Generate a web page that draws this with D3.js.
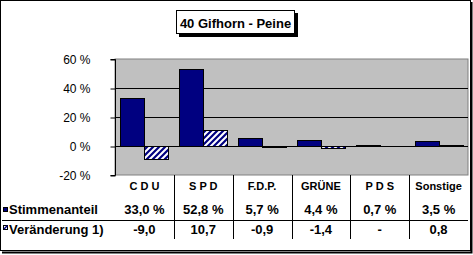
<!DOCTYPE html>
<html><head><meta charset="utf-8">
<script src="https://cdn.jsdelivr.net/npm/d3@7"></script>
<style>body{margin:0;background:#fff}svg{display:block}text{font-family:Arial,"Liberation Sans",sans-serif}</style>
</head><body>
<script>
const title = "40 Gifhorn - Peine";
const categories = ["C D U","S P D","F.D.P.","GRÜNE","P D S","Sonstige"];
const seriesNames = ["Stimmenanteil","Veränderung 1)"];
const stimmenanteil = [33.0, 52.8, 5.7, 4.4, 0.7, 3.5];
const veraenderung = [-9.0, 10.7, -0.9, -1.4, null, 0.8];
const stimmenLabels = ["33,0 %","52,8 %","5,7 %","4,4 %","0,7 %","3,5 %"];
const veraenderungLabels = ["-9,0","10,7","-0,9","-1,4","-","0,8"];
const yTicks = [-20, 0, 20, 40, 60];

const W = 473, H = 255;
const svg = d3.select("body").append("svg").attr("width", W).attr("height", H);

const defs = svg.append("defs");
const pat = defs.append("pattern").attr("id","hatch").attr("patternUnits","userSpaceOnUse")
  .attr("width",6).attr("height",6);
pat.append("rect").attr("width",6).attr("height",6).attr("fill","#fff");
pat.append("path").attr("d","M-1,7 L7,-1 M-4,4 L4,-4 M2,10 L10,2").attr("stroke","#000080").attr("stroke-width",2.2);

// outer frame
svg.append("rect").attr("x",0.5).attr("y",0.5).attr("width",470).attr("height",250)
  .attr("fill","#fff").attr("stroke","#000");
svg.append("path").attr("d","M471.5,2 V252.5 H2").attr("fill","none").attr("stroke","#000").attr("stroke-width",2);

// title box
svg.append("rect").attr("x",179).attr("y",13).attr("width",119).attr("height",24).attr("fill","#000");
svg.append("rect").attr("x",176.5).attr("y",10.5).attr("width",118).attr("height",23).attr("fill","#fff").attr("stroke","#000");
svg.append("text").attr("x",235.5).attr("y",27.5).attr("text-anchor","middle")
  .attr("font-size",13).attr("font-weight","bold").text(title);

const plot = {l:115, r:468, t:59, b:175};
const y = d3.scaleLinear().domain([-20,60]).range([plot.b, plot.t]);
const x = d3.scaleBand().domain(categories).range([plot.l, plot.r]).padding(0);
const x1 = d3.scaleBand().domain([0,1]).range([0, x.bandwidth()]).paddingInner(0).paddingOuter(0.225);

svg.append("rect").attr("x",plot.l).attr("y",plot.t).attr("width",plot.r-plot.l).attr("height",plot.b-plot.t)
  .attr("fill","#c0c0c0").attr("stroke","#808080");

// gridlines
svg.append("g").selectAll("line").data(yTicks.filter(d=>d>-20 && d<60)).join("line")
  .attr("x1",plot.l).attr("x2",plot.r).attr("y1",d=>Math.round(y(d))+0.5).attr("y2",d=>Math.round(y(d))+0.5)
  .attr("stroke","#000");

// bars
const bars = svg.append("g");
categories.forEach((c,i)=>{
  const vals = [stimmenanteil[i], veraenderung[i]];
  vals.forEach((v,j)=>{
    if(v===null) return;
    const y0 = Math.round(y(0)), y1 = Math.round(y(v));
    const top = Math.min(y0,y1), h = Math.max(Math.abs(y1-y0),0);
    bars.append("rect")
      .attr("x", Math.round(x(c)+x1(j))+0.5).attr("y", top+0.5)
      .attr("width", Math.round(x1.bandwidth())).attr("height", h)
      .attr("fill", j===0 ? "#000080" : "url(#hatch)")
      .attr("stroke","#000");
  });
});

// y axis
const yAxis = d3.axisLeft(y).tickValues(yTicks).tickSize(5).tickPadding(20).tickFormat(d=>d+" %");
const ga = svg.append("g").attr("transform",`translate(${plot.l+0.5},0.5)`).call(yAxis);
ga.select(".domain").attr("stroke","#000").attr("d",`M-5,${plot.t}H0V${plot.b}H-5`);
ga.selectAll(".tick line").attr("stroke","#000");
ga.selectAll(".tick text").attr("font-size",12).attr("font-family","Arial,'Liberation Sans',sans-serif").attr("fill","#000").attr("dy","0.35em");

// data table
const tbl = svg.append("g");
categories.forEach((c,i)=>{
  if(i>0) tbl.append("line").attr("x1",Math.round(x(c))+0.5).attr("x2",Math.round(x(c))+0.5)
    .attr("y1",plot.b).attr("y2",239).attr("stroke","#000");
  const cx = x(c)+x.bandwidth()/2;
  tbl.append("text").attr("x",cx).attr("y",189.5).attr("text-anchor","middle")
    .attr("font-size",11).attr("font-weight","bold").text(c);
  tbl.append("text").attr("x",cx).attr("y",213.5).attr("text-anchor","middle")
    .attr("font-size",13).attr("font-weight","bold").text(stimmenLabels[i]);
  tbl.append("text").attr("x",cx).attr("y",234).attr("text-anchor","middle")
    .attr("font-size",13).attr("font-weight","bold").text(veraenderungLabels[i]);
});
tbl.append("line").attr("x1",2).attr("x2",plot.r).attr("y1",220.5).attr("y2",220.5).attr("stroke","#000");

// legend keys
tbl.append("rect").attr("x",3.5).attr("y",207.5).attr("width",4).attr("height",4).attr("fill","#000080").attr("stroke","#000");
tbl.append("rect").attr("x",3.5).attr("y",225.5).attr("width",4).attr("height",4).attr("fill","#fff").attr("stroke","#000");
tbl.append("line").attr("x1",4).attr("y1",229).attr("x2",7.5).attr("y2",225.5).attr("stroke","#000080").attr("stroke-width",1.5);
tbl.append("text").attr("x",9).attr("y",213.5).attr("font-size",13).attr("font-weight","bold").text(seriesNames[0]);
tbl.append("text").attr("x",9).attr("y",234).attr("font-size",13).attr("font-weight","bold").text(seriesNames[1]);
</script>
</body></html>
